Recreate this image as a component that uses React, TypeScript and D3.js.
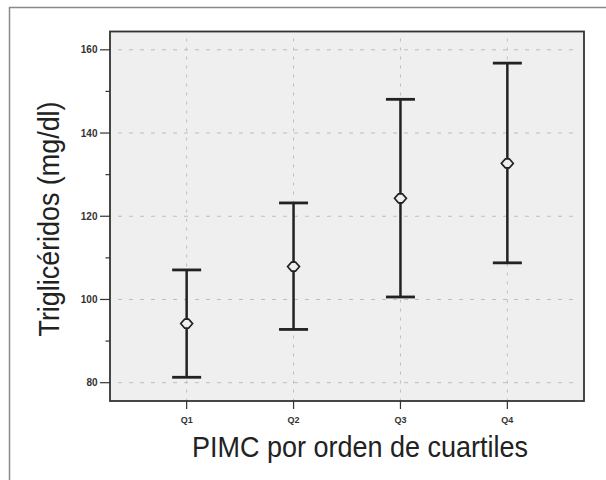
import React from "react";
import * as d3 from "d3";

const categories = ["Q1", "Q2", "Q3", "Q4"];
const means = [94.2, 107.9, 124.3, 132.7];
const lowers = [81.3, 92.8, 100.6, 108.8];
const uppers = [107.1, 123.2, 148.1, 156.8];
const majorTicks = [80, 100, 120, 140, 160];
const minorTicks = [90, 110, 130, 150];
const yTitle = "Triglicéridos (mg/dl)";
const xTitle = "PIMC por orden de cuartiles";

const W = 606;
const H = 480;
const plot = { left: 110, top: 31.5, right: 584, bottom: 401 };

export default function App() {
  const y = d3.scaleLinear().domain([75.6, 164.4]).range([plot.bottom, plot.top]);
  const x = d3
    .scalePoint<string>()
    .domain(categories)
    .range([plot.left, plot.right])
    .padding(0.717);
  const capW = 29;
  const dW = 6;
  const dH = 4.5;
  const data = categories.map((c, i) => ({ c, m: means[i], lo: lowers[i], hi: uppers[i] }));
  const ink = "#222";
  return (
    <svg
      width={W}
      height={H}
      style={{ position: "absolute", left: 0, top: 0, background: "#fff" }}
      fontFamily="'Liberation Sans', Arial, sans-serif"
    >
      <rect x={0} y={0} width={W} height={H} fill="#fff" />
      {/* outer frame */}
      <path d={`M9.5,${H} V7.5 H${W}`} fill="none" stroke="#8a8a8a" strokeWidth={1.5} />
      {/* plot background */}
      <rect
        x={plot.left}
        y={plot.top}
        width={plot.right - plot.left}
        height={plot.bottom - plot.top}
        fill="#efefef"
      />
      {/* grid */}
      {majorTicks.map((t) => (
        <line
          key={"h" + t}
          x1={plot.left + 8}
          x2={plot.right - 4}
          y1={y(t)}
          y2={y(t)}
          stroke="#bdbdbd"
          strokeWidth={1}
          strokeDasharray="4,7"
        />
      ))}
      {categories.map((c) => (
        <line
          key={"v" + c}
          x1={x(c)}
          x2={x(c)}
          y1={plot.top + 7}
          y2={plot.bottom}
          stroke="#bdbdbd"
          strokeWidth={1}
          strokeDasharray="3,6"
        />
      ))}
      {/* error bars */}
      {data.map((d) => {
        const cx = x(d.c) as number;
        const cy = y(d.m);
        return (
          <g key={d.c}>
            <line x1={cx} x2={cx} y1={y(d.hi)} y2={y(d.lo)} stroke={ink} strokeWidth={2.5} />
            <line x1={cx - capW / 2} x2={cx + capW / 2} y1={y(d.hi)} y2={y(d.hi)} stroke={ink} strokeWidth={2.8} />
            <line x1={cx - capW / 2} x2={cx + capW / 2} y1={y(d.lo)} y2={y(d.lo)} stroke={ink} strokeWidth={2.8} />
            <path
              d={`M${cx - dW},${cy} L${cx - dW / 3},${cy - dH} L${cx + dW / 3},${cy - dH} L${cx + dW},${cy} L${cx + dW / 3},${cy + dH} L${cx - dW / 3},${cy + dH} Z`}
              fill="#efefef"
              stroke={ink}
              strokeWidth={1.6}
            />
          </g>
        );
      })}
      {/* plot frame */}
      <rect
        x={plot.left}
        y={plot.top}
        width={plot.right - plot.left}
        height={plot.bottom - plot.top}
        fill="none"
        stroke="#333"
        strokeWidth={1.8}
      />
      {/* y ticks */}
      {majorTicks.map((t) => (
        <g key={"yt" + t}>
          <line x1={100} x2={plot.left} y1={y(t)} y2={y(t)} stroke="#333" strokeWidth={1.2} />
          <text
            x={97.5}
            y={y(t)}
            dy="0.35em"
            textAnchor="end"
            fontSize={10}
            fontWeight="bold"
            fill="#333"
          >
            {t}
          </text>
        </g>
      ))}
      {minorTicks.map((t) => (
        <line key={"ym" + t} x1={105.5} x2={plot.left} y1={y(t)} y2={y(t)} stroke="#333" strokeWidth={1.2} />
      ))}
      {/* x ticks */}
      {categories.map((c) => (
        <g key={"xt" + c}>
          <line x1={x(c)} x2={x(c)} y1={plot.bottom} y2={plot.bottom + 8} stroke="#333" strokeWidth={1.2} />
          <text
            x={x(c)}
            y={plot.bottom + 21.5}
            textAnchor="middle"
            fontSize={9}
            fontWeight="bold"
            fill="#333"
          >
            {c}
          </text>
        </g>
      ))}
      {/* titles */}
      <text
        x={360}
        y={457}
        textAnchor="middle"
        fontSize={29}
        fill="#222"
        textLength={336}
        lengthAdjust="spacingAndGlyphs"
      >
        {xTitle}
      </text>
      <text
        transform="translate(59,219) rotate(-90)"
        textAnchor="middle"
        fontSize={30}
        fill="#222"
        textLength={235}
        lengthAdjust="spacingAndGlyphs"
      >
        {yTitle}
      </text>
    </svg>
  );
}
